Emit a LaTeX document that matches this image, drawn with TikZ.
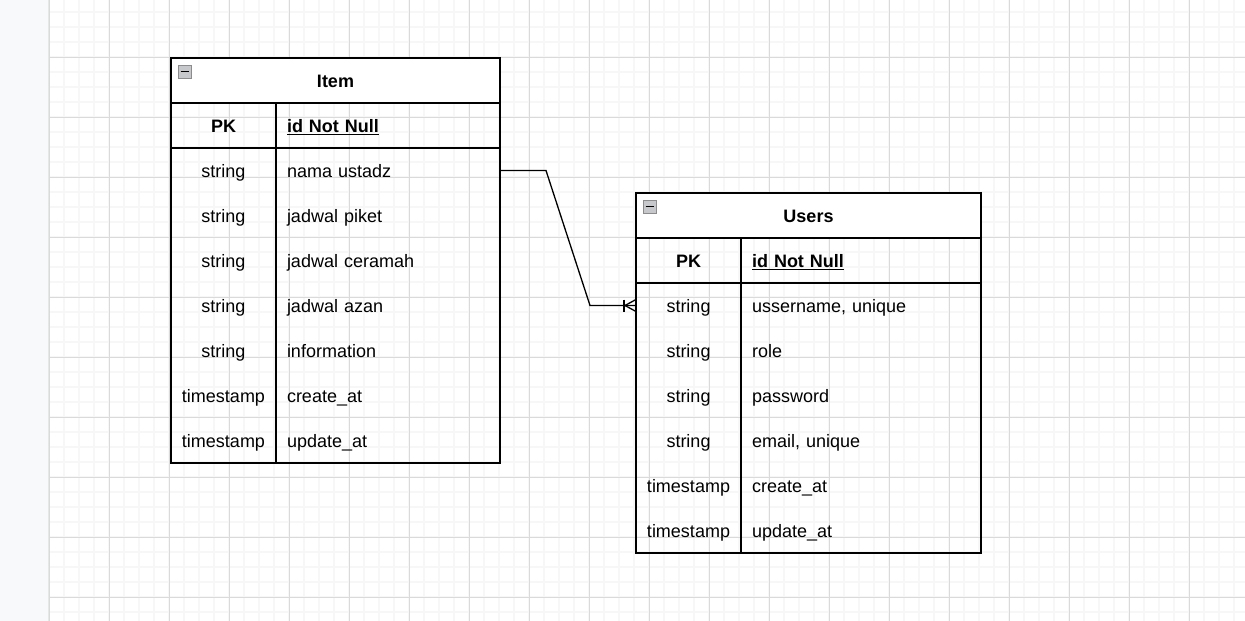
\documentclass[tikz,border=0pt]{standalone}
\usepackage{fontspec}
\setmainfont{Liberation Sans}
\usepackage{tikz}
\usetikzlibrary{positioning, calc}
\definecolor{gridminor}{HTML}{F7F7F7}
\definecolor{gridmajor}{HTML}{DADADA}
\definecolor{sidebar}{HTML}{F8F9FA}
\definecolor{sideedge}{HTML}{E6E7E9}
\definecolor{iconfill}{HTML}{C6C8CC}

\begin{document}
\begin{tikzpicture}[
    x=1pt, y=1pt,
    every node/.style={font=\fontsize{18pt}{22pt}\selectfont, text=black},
    headbox/.style={
        draw, fill=white, rectangle, line width=1.3pt,
        minimum height=45pt, outer sep=0pt, anchor=north west,
        text height=14pt, text depth=0pt,
        font=\fontsize{18pt}{22pt}\selectfont\bfseries
    },
    typecell/.style={
        rectangle, minimum width=105pt, minimum height=45pt,
        inner sep=0pt, outer sep=0pt, text height=14pt, text depth=0pt
    },
    fieldcell/.style={
        rectangle, minimum height=45pt, inner xsep=11pt, inner ysep=0pt,
        outer sep=0pt, align=left, text height=14pt, text depth=0pt
    },
    itemfield/.style={fieldcell, text width=202pt},
    userfield/.style={fieldcell, text width=218pt},
    keycell/.style={font=\fontsize{18pt}{22pt}\selectfont\bfseries},
    iconbox/.style={
        draw=gray!90, fill=iconfill, rectangle, minimum size=13pt,
        inner sep=0pt, line width=0.9pt
    },
    frame/.style={line width=1.3pt},
    link/.style={line width=1.3pt},
]

% canvas
\useasboundingbox (0,0) rectangle (1245,-621);
\fill[white] (0,0) rectangle (1245,-621);
\begin{scope}[shift={(49,-57)}]
\draw[gridminor, line width=1.5pt, step=15pt] (0,57) grid (1196,-564);
\draw[gridmajor, line width=1pt, step=60pt] (0,57) grid (1196,-564);
\end{scope}
\fill[sidebar] (0,0) rectangle (48,-621);
\draw[sideedge, line width=1.5pt] (48.5,0) -- (48.5,-621);

% Item table
\node[headbox, minimum width=329pt] (itemhead) at (171,-58) {Item};
\node[iconbox] (itemicon) at ($(itemhead.north west)+(13.5,-13.5)$) {\rule{8pt}{1.8pt}};
\node[typecell, keycell, anchor=north west] (itemt0) at (itemhead.south west) {PK};
\node[itemfield, keycell, right=0pt of itemt0] (itemf0) {\underline{id Not Null}};
\node[typecell, below=0pt of itemt0] (itemt1) {string};
\node[itemfield, right=0pt of itemt1] (itemf1) {nama ustadz};
\node[typecell, below=0pt of itemt1] (itemt2) {string};
\node[itemfield, right=0pt of itemt2] (itemf2) {jadwal piket};
\node[typecell, below=0pt of itemt2] (itemt3) {string};
\node[itemfield, right=0pt of itemt3] (itemf3) {jadwal ceramah};
\node[typecell, below=0pt of itemt3] (itemt4) {string};
\node[itemfield, right=0pt of itemt4] (itemf4) {jadwal azan};
\node[typecell, below=0pt of itemt4] (itemt5) {string};
\node[itemfield, right=0pt of itemt5] (itemf5) {information};
\node[typecell, below=0pt of itemt5] (itemt6) {timestamp};
\node[itemfield, right=0pt of itemt6] (itemf6) {create\_at};
\node[typecell, below=0pt of itemt6] (itemt7) {timestamp};
\node[itemfield, right=0pt of itemt7] (itemf7) {update\_at};
\draw[frame] (itemhead.north west) rectangle (itemf7.south east);
\draw[frame] (itemt0.south west) -- (itemf0.south east);
\draw[frame] (itemt0.north east) -- (itemt7.south east);

% Users table
\node[headbox, minimum width=345pt] (usershead) at (636,-193) {Users};
\node[iconbox] (usersicon) at ($(usershead.north west)+(13.5,-13.5)$) {\rule{8pt}{1.8pt}};
\node[typecell, keycell, anchor=north west] (usert0) at (usershead.south west) {PK};
\node[userfield, keycell, right=0pt of usert0] (userf0) {\underline{id Not Null}};
\node[typecell, below=0pt of usert0] (usert1) {string};
\node[userfield, right=0pt of usert1] (userf1) {ussername, unique};
\node[typecell, below=0pt of usert1] (usert2) {string};
\node[userfield, right=0pt of usert2] (userf2) {role};
\node[typecell, below=0pt of usert2] (usert3) {string};
\node[userfield, right=0pt of usert3] (userf3) {password};
\node[typecell, below=0pt of usert3] (usert4) {string};
\node[userfield, right=0pt of usert4] (userf4) {email, unique};
\node[typecell, below=0pt of usert4] (usert5) {timestamp};
\node[userfield, right=0pt of usert5] (userf5) {create\_at};
\node[typecell, below=0pt of usert5] (usert6) {timestamp};
\node[userfield, right=0pt of usert6] (userf6) {update\_at};
\draw[frame] (usershead.north west) rectangle (userf6.south east);
\draw[frame] (usert0.south west) -- (userf0.south east);
\draw[frame] (usert0.north east) -- (usert6.south east);

% relation, one or many on the Users side
\coordinate (bendtop) at ($(itemf1.east)+(46,0)$);
\coordinate (bendlow) at ($(usert1.west)+(-46,0)$);
\coordinate (footbase) at ($(usert1.west)+(-11,0)$);
\draw[link] (itemf1.east) -- (bendtop) -- (bendlow) -- (usert1.west);
\draw[link] (footbase) -- ($(usert1.west)+(0,6)$);
\draw[link] (footbase) -- ($(usert1.west)+(0,-6)$);
\draw[link] ($(footbase)+(-1,6)$) -- ($(footbase)+(-1,-6)$);
\end{tikzpicture}
\end{document}
